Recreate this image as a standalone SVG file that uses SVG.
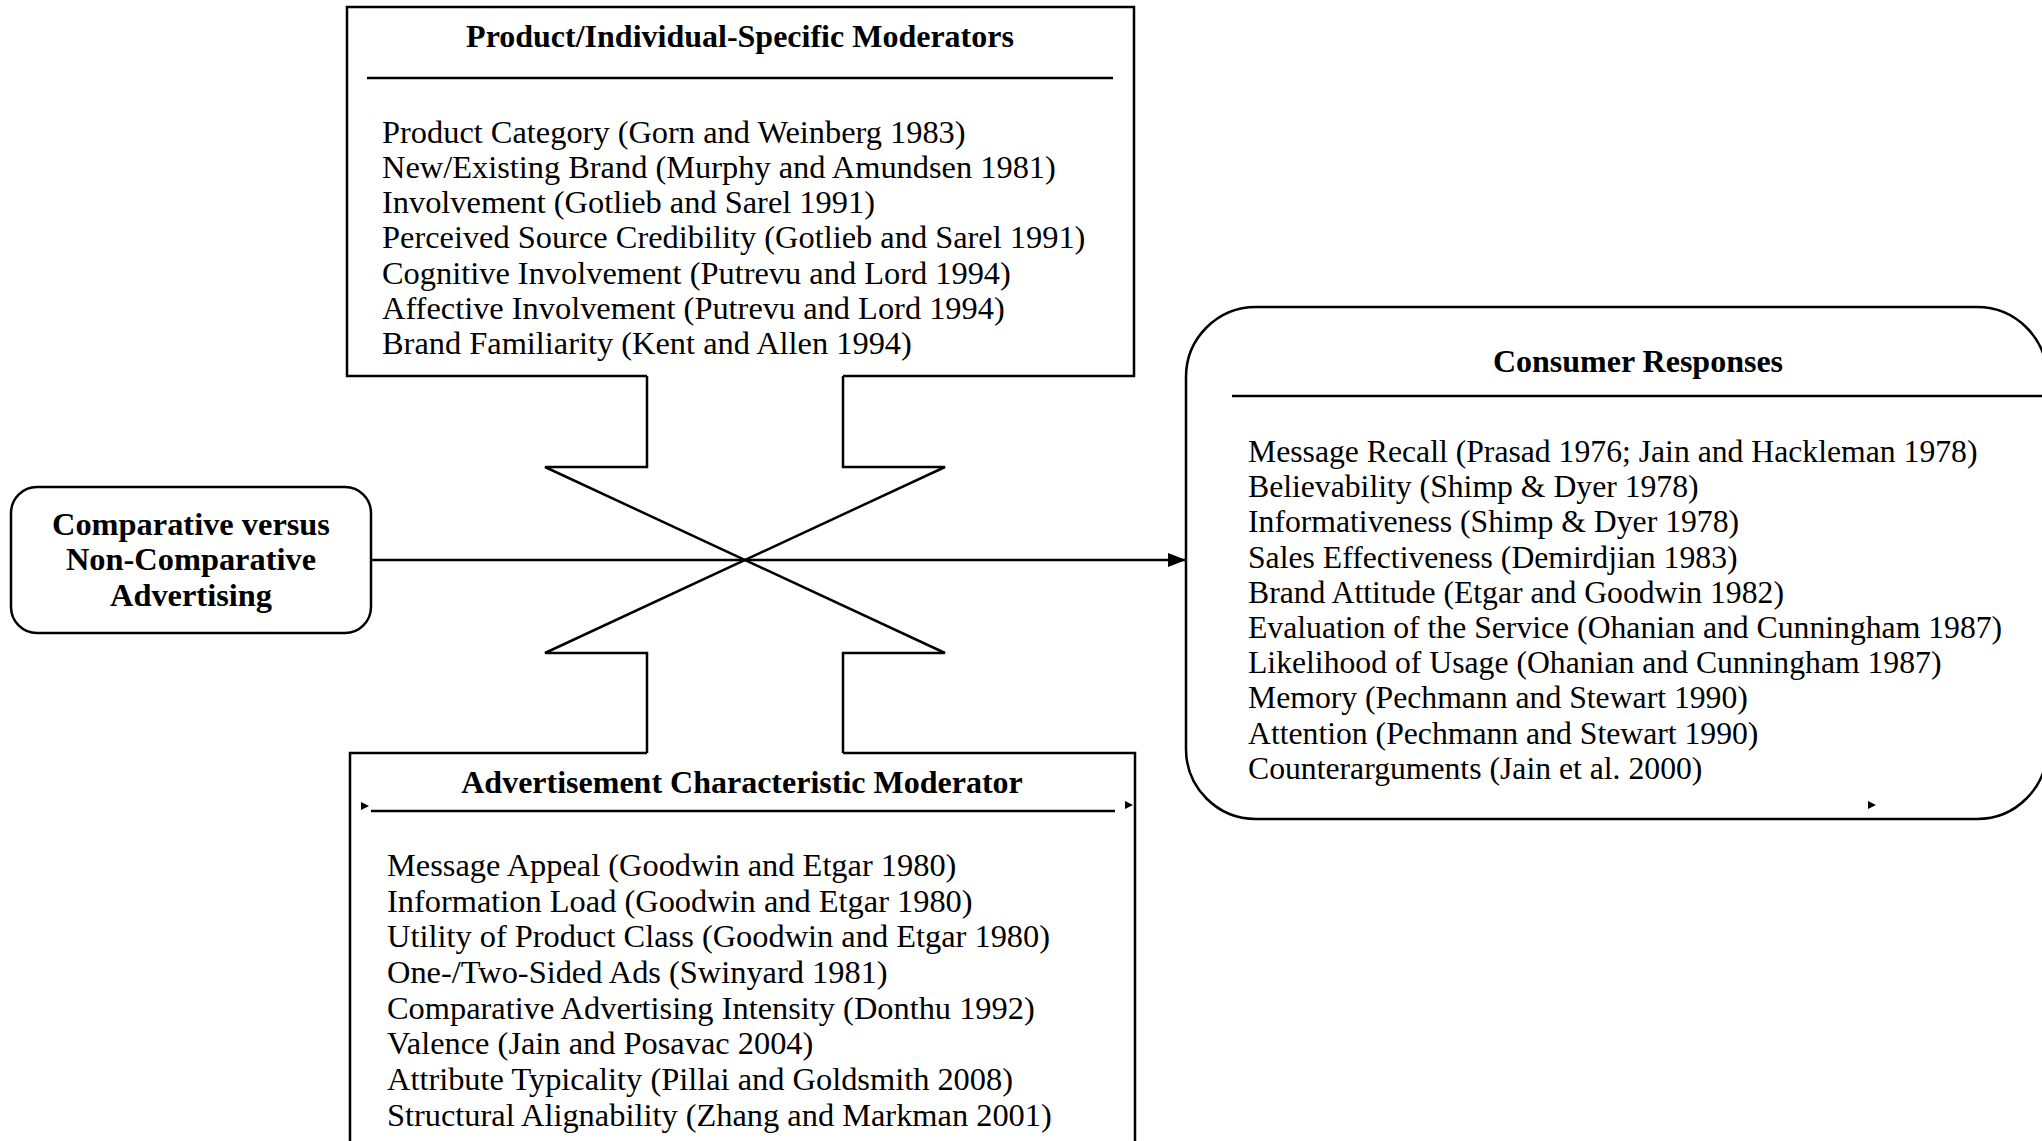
<svg xmlns="http://www.w3.org/2000/svg" width="2042" height="1141" viewBox="0 0 2042 1141">
<style>
  .ln { fill: none; stroke: #000; stroke-width: 2.5; stroke-linejoin: miter; }
  .dv { fill: none; stroke: #000; stroke-width: 2.5; }
  .hd { font-family: "Liberation Serif", "Times New Roman", serif; font-weight: bold; font-size: 32px; fill: #000; text-anchor: middle; }
  .tx { font-family: "Liberation Serif", "Times New Roman", serif; font-size: 32.4px; fill: #000; }
  .cr { font-size: 31.7px; }
  .bl { font-family: "Liberation Serif", "Times New Roman", serif; font-weight: bold; font-size: 32.4px; fill: #000; text-anchor: middle; }
</style>
<defs>
  <marker id="arr" markerWidth="18" markerHeight="14" refX="18" refY="7" orient="auto" markerUnits="userSpaceOnUse">
    <path d="M0,0 L18,7 L0,14 Z" fill="#000"/>
  </marker>
  <path id="tick" d="M-4,-4 L4,0 L-4,4 Z" fill="#000"/>
</defs>
<rect width="2042" height="1141" fill="#fff"/>

<g id="node-product-moderators">
  <path class="ln" d="M647,376 L347,376 L347,7 L1134,7 L1134,376 L843,376"/>
  <text class="hd" x="740" y="47">Product/Individual-Specific Moderators</text>
  <line class="dv" x1="367" y1="78" x2="1113" y2="78"/>
  <text class="tx" x="382" y="143">Product Category (Gorn and Weinberg 1983)</text>
  <text class="tx" x="382" y="178">New/Existing Brand (Murphy and Amundsen 1981)</text>
  <text class="tx" x="382" y="213">Involvement (Gotlieb and Sarel 1991)</text>
  <text class="tx" x="382" y="248">Perceived Source Credibility (Gotlieb and Sarel 1991)</text>
  <text class="tx" x="382" y="284">Cognitive Involvement (Putrevu and Lord 1994)</text>
  <text class="tx" x="382" y="319">Affective Involvement (Putrevu and Lord 1994)</text>
  <text class="tx" x="382" y="354">Brand Familiarity (Kent and Allen 1994)</text>
</g>

<g id="node-comparative">
  <rect class="ln" x="11" y="487" width="360" height="146" rx="26" ry="26"/>
  <text class="bl" x="191" y="535">Comparative versus</text>
  <text class="bl" x="191" y="570">Non-Comparative</text>
  <text class="bl" x="191" y="606">Advertising</text>
</g>

<g id="node-ad-moderator">
  <path class="ln" d="M647,753 L350,753 L350,1160 M843,753 L1135,753 L1135,1160"/>
  <text class="hd" x="742" y="793">Advertisement Characteristic Moderator</text>
  <line class="dv" x1="371" y1="811" x2="1115" y2="811"/>
  <use href="#tick" x="365" y="806"/>
  <use href="#tick" x="1129" y="805"/>
  <text class="tx" x="387" y="876">Message Appeal (Goodwin and Etgar 1980)</text>
  <text class="tx" x="387" y="912">Information Load (Goodwin and Etgar 1980)</text>
  <text class="tx" x="387" y="947">Utility of Product Class (Goodwin and Etgar 1980)</text>
  <text class="tx" x="387" y="983">One-/Two-Sided Ads (Swinyard 1981)</text>
  <text class="tx" x="387" y="1019">Comparative Advertising Intensity (Donthu 1992)</text>
  <text class="tx" x="387" y="1054">Valence (Jain and Posavac 2004)</text>
  <text class="tx" x="387" y="1090">Attribute Typicality (Pillai and Goldsmith 2008)</text>
  <text class="tx" x="387" y="1126">Structural Alignability (Zhang and Markman 2001)</text>
</g>

<g id="node-consumer-responses">
  <rect class="ln" x="1186" y="307" width="861" height="512" rx="70" ry="70"/>
  <text class="hd" x="1638" y="372">Consumer Responses</text>
  <line class="dv" x1="1232" y1="396" x2="2042" y2="396"/>
  <use href="#tick" x="1872" y="805"/>
  <text class="tx cr" x="1248" y="462">Message Recall (Prasad 1976; Jain and Hackleman 1978)</text>
  <text class="tx cr" x="1248" y="497">Believability (Shimp &amp; Dyer 1978)</text>
  <text class="tx cr" x="1248" y="532">Informativeness (Shimp &amp; Dyer 1978)</text>
  <text class="tx cr" x="1248" y="568">Sales Effectiveness (Demirdjian 1983)</text>
  <text class="tx cr" x="1248" y="603">Brand Attitude (Etgar and Goodwin 1982)</text>
  <text class="tx cr" x="1248" y="638">Evaluation of the Service (Ohanian and Cunningham 1987)</text>
  <text class="tx cr" x="1248" y="673">Likelihood of Usage (Ohanian and Cunningham 1987)</text>
  <text class="tx cr" x="1248" y="708">Memory (Pechmann and Stewart 1990)</text>
  <text class="tx cr" x="1248" y="744">Attention (Pechmann and Stewart 1990)</text>
  <text class="tx cr" x="1248" y="779">Counterarguments (Jain et al. 2000)</text>
</g>

<g id="connectors">
  <path class="ln" d="M647,376 L647,467 L545,467 L945,653 L843,653 L843,753"/>
  <path class="ln" d="M843,376 L843,467 L945,467 L545,653 L647,653 L647,753"/>
  <line class="dv" x1="371" y1="560" x2="1186" y2="560" marker-end="url(#arr)"/>
</g>
</svg>
